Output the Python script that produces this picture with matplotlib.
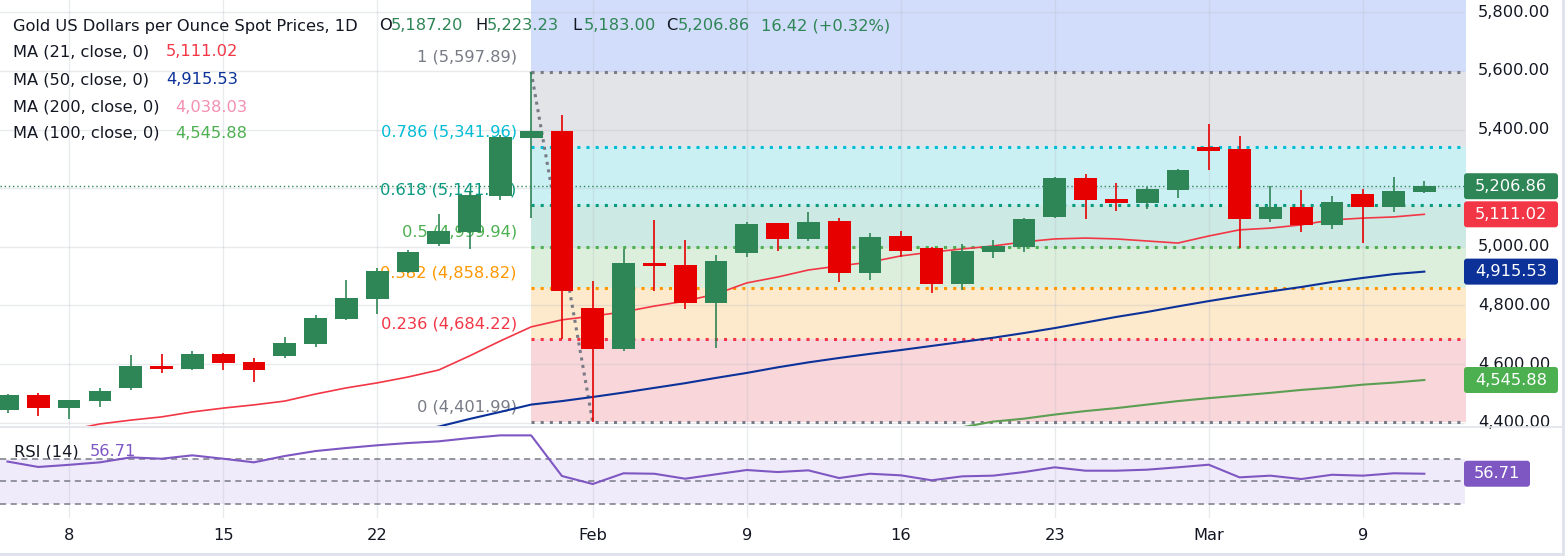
import matplotlib
matplotlib.use("Agg")
import matplotlib.pyplot as plt
from matplotlib.patches import FancyBboxPatch, Rectangle
from matplotlib.lines import Line2D
from matplotlib.transforms import IdentityTransform
import numpy as np

W, H = 1565, 556
plt.rcParams['font.family'] = ['DejaVu Sans']
FS = 11.7

# ---------------- data ----------------
dates = ["2026-01-06", "2026-01-07", "2026-01-08", "2026-01-09", "2026-01-12", "2026-01-13",
         "2026-01-14", "2026-01-15", "2026-01-16", "2026-01-19", "2026-01-20", "2026-01-21",
         "2026-01-22", "2026-01-23", "2026-01-26", "2026-01-27", "2026-01-28", "2026-01-29",
         "2026-01-30", "2026-02-02", "2026-02-03", "2026-02-04", "2026-02-05", "2026-02-06",
         "2026-02-09", "2026-02-10", "2026-02-11", "2026-02-12", "2026-02-13", "2026-02-16",
         "2026-02-17", "2026-02-18", "2026-02-19", "2026-02-20", "2026-02-23", "2026-02-24",
         "2026-02-25", "2026-02-26", "2026-02-27", "2026-03-02", "2026-03-03", "2026-03-04",
         "2026-03-05", "2026-03-06", "2026-03-09", "2026-03-10", "2026-03-11"]

opens = [4444, 4495, 4450, 4474, 4518, 4594, 4583, 4635, 4607, 4628, 4669, 4754, 4823, 4914,
         5009, 5051, 5173, 5371, 5395, 4791, 4651, 4945, 4938, 4810, 4980, 5081, 5027, 5088,
         4912, 5037, 4996, 4874, 4982, 5000, 5102, 5235, 5163, 5150, 5194, 5341, 5334, 5095,
         5136, 5075, 5180, 5136, 5187.20]
highs = [4498, 4502, 4479, 4518, 4631, 4635, 4645, 4637, 4621, 4693, 4768, 4887, 4928, 4989,
         5112, 5190, 5380, 5597.89, 5450, 4884, 4993, 5092, 5023, 4972, 5086, 5083, 5119, 5098,
         5046, 5054, 4999, 5010, 5023, 5098, 5238, 5248, 5218, 5204, 5266, 5419, 5378, 5208,
         5194, 5173, 5197, 5238, 5223.23]
lows = [4433, 4423, 4413, 4454, 4512, 4570, 4581, 4580, 4539, 4621, 4659, 4752, 4771, 4912,
        5003, 4993, 5160, 5098, 4686, 4401.99, 4646, 4850, 4788, 4656, 4966, 4987, 5021, 4881,
        4887, 4966, 4844, 4854, 4963, 4983, 5098, 5095, 5122, 5129, 5167, 5262, 4996, 5085,
        5051, 5061, 5013, 5119, 5183.00]
closes = [4495, 4450, 4478, 4508, 4594, 4583, 4635, 4604, 4580, 4672, 4757, 4826, 4918, 4982,
          5054, 5177, 5375, 5395, 4849, 4651, 4945, 4936, 4810, 4952, 5078, 5027, 5085, 4912,
          5034, 4987, 4874, 4986, 5003, 5095, 5235, 5160, 5150, 5197, 5262, 5327, 5095, 5136,
          5075, 5153, 5136, 5190, 5206.86]

ma21 = [4341, 4358, 4375, 4396, 4409, 4420, 4437, 4450, 4461, 4474, 4498, 4519, 4536, 4556,
        4580, 4628, 4679, 4727, 4751, 4764, 4778, 4798, 4815, 4839, 4877, 4897, 4921, 4935,
        4948, 4969, 4982, 4993, 5003, 5017, 5027, 5030, 5027, 5020, 5013, 5037, 5058, 5064,
        5075, 5092, 5098, 5102, 5111.02]
ma50 = [4215, 4225, 4236, 4246, 4257, 4268, 4279, 4290, 4302, 4313, 4326, 4340, 4355, 4371,
        4387, 4413, 4437, 4462, 4474, 4488, 4503, 4519, 4535, 4553, 4570, 4589, 4606, 4621,
        4635, 4648, 4662, 4676, 4690, 4706, 4723, 4742, 4761, 4778, 4797, 4815, 4832, 4848,
        4863, 4880, 4894, 4907, 4915.53]
ma100 = [None] * 31 + [4385, 4404, 4414, 4428, 4440, 4450, 4462, 4474, 4484, 4493, 4502, 4512,
                       4520, 4530, 4537, 4545.88]
rsi = [67.5, 62.7, 64.6, 66.8, 71.2, 70.0, 73.0, 70.0, 66.8, 72.4, 76.8, 79.5, 81.9, 83.9,
       85.4, 88.3, 90.7, 90.7, 54.7, 47.6, 57.1, 56.7, 52.3, 56.2, 60.0, 58.2, 59.7, 52.9,
       56.7, 55.3, 50.9, 54.4, 55.0, 58.2, 62.4, 59.4, 59.4, 60.3, 62.4, 64.7, 53.5, 55.0,
       52.0, 55.8, 55.0, 57.1, 56.71]

fib_ratios = [1.618, 1, 0.786, 0.618, 0.5, 0.382, 0.236, 0]
fib_prices = [6336.96, 5597.89, 5341.96, 5141.06, 4999.94, 4858.82, 4684.22, 4401.99]
fib_line_colors = ['#2962ff', '#787b86', '#00bcd4', '#089981', '#4caf50', '#ff9800', '#f23645', '#787b86']
fib_fill_colors = ['#d2ddfb', '#e3e4e7', '#caf0f3', '#cde9e3', '#dcefdc', '#fde9cc', '#f9d6da']
fib_start_bar = 17
fib_end_bar = 19

price_ticks = [4400, 4600, 4800, 5000, 5200, 5400, 5600, 5800]
price_tick_hidden = [5200]
xtick_pos = [2, 7, 12, 19, 24, 29, 34, 39, 44]
xtick_labels = ["8", "15", "22", "Feb", "9", "16", "23", "Mar", "9"]

title = "Gold US Dollars per Ounce Spot Prices, 1D"
ohlc_labels = ["O", "H", "L", "C"]
ohlc_values = ["5,187.20", "5,223.23", "5,183.00", "5,206.86"]
change_text = "16.42 (+0.32%)"
ma_names = ["MA (21, close, 0)", "MA (50, close, 0)", "MA (200, close, 0)", "MA (100, close, 0)"]
ma_values = ["5,111.02", "4,915.53", "4,038.03", "4,545.88"]
ma_colors = ["#f23645", "#0c3299", "#f48fb1", "#4caf50"]
rsi_last = 56.71

UP = '#2e8555'
DOWN = '#e60000'
GRID = '#b8bcc8'

# ---------------- figure ----------------
fig = plt.figure(figsize=(W / 100, H / 100), dpi=100)
fig.patch.set_facecolor('white')

XMIN, XMAX = -0.2435, 47.32
ax = fig.add_axes([0, 1 - 426 / H, 1465 / W, 426 / H])
ax.set_xlim(XMIN, XMAX)
ax.set_ylim(4389.0, 5841.95)
ax.axis('off')

rax = fig.add_axes([0, 1 - 518 / H, 1465 / W, (518 - 427) / H])
rax.set_xlim(XMIN, XMAX)
rax.set_ylim(17.5, 98.1)
for s in rax.spines.values():
    s.set_visible(False)
rax.set_yticks([])
rax.set_xticks(xtick_pos)
rax.set_xticklabels(xtick_labels, fontsize=FS, color='#131722')
rax.tick_params(axis='x', length=0, pad=7)

# grid
for p in price_ticks:
    ax.axhline(p, color=GRID, alpha=0.3, lw=1, zorder=1)
for xt in xtick_pos:
    ax.axvline(xt, color=GRID, alpha=0.3, lw=1, zorder=1)
    rax.axvline(xt, color=GRID, alpha=0.3, lw=1, zorder=1)

# fib fills and lines
for k in range(len(fib_prices) - 1):
    ax.fill_between([fib_start_bar, XMAX + 1], fib_prices[k + 1], fib_prices[k],
                    color=fib_fill_colors[k], lw=0, zorder=0.5)
for k in range(1, len(fib_prices)):
    ax.plot([fib_start_bar, XMAX + 1], [fib_prices[k]] * 2, ls=(0, (1, 2)), lw=2.2,
            color=fib_line_colors[k], dash_capstyle='butt', zorder=2)
    lab = f"{fib_ratios[k]:g} ({fib_prices[k]:,.2f})"
    ax.annotate(lab, xy=(fib_start_bar - 0.47, fib_prices[k]), xytext=(0, 10.8),
                textcoords='offset points', ha='right', va='center', fontsize=FS,
                color=fib_line_colors[k], zorder=1.5)
ax.plot([fib_start_bar, fib_end_bar], [fib_prices[1], fib_prices[-1]], ls=(0, (1, 1.5)),
        lw=2.2, color='#787b86', dash_capstyle='butt', zorder=2.2)

# moving averages
xs = np.arange(len(dates))
ax.plot(xs, ma21, color='#f23645', lw=1.2, zorder=2.5)
ax.plot(xs, ma50, color='#0c3299', lw=1.5, zorder=2.5)
ax.plot(xs, np.array([np.nan if v is None else v for v in ma100], dtype=float),
        color='#5c9e52', lw=1.5, zorder=2.5)

# last price line
ax.plot([XMIN, XMAX + 1], [closes[-1]] * 2, ls=(0, (1, 2)), lw=1, color=UP, zorder=2.6)

# candles
bw = 0.74
for i in range(len(dates)):
    o, h, l, c = opens[i], highs[i], lows[i], closes[i]
    col = UP if c >= o else DOWN
    ax.vlines(i, l, h, color=col, lw=1.2, zorder=3)
    ax.bar(i, max(abs(c - o), 8), bottom=min(o, c), width=bw, color=col, lw=0, zorder=3.1)

# RSI panel
rax.axhspan(30, 70, color='#f0ebfa', lw=0, zorder=0.5)
for lvl in (70, 50, 30):
    rax.axhline(lvl, color='#787b86', lw=1.1, ls=(0, (4, 3)), zorder=1.5)
rax.plot(xs, rsi, color='#7e57c2', lw=1.5, zorder=3)

# ---------------- right-axis labels ----------------
def px_text(x, y, s, color='#131722', ha='left', va='center', **kw):
    fig.text(x / W, 1 - y / H, s, color=color, ha=ha, va=va, fontsize=kw.pop('fontsize', FS), **kw)

for p in price_ticks:
    if p in price_tick_hidden:
        continue
    ax.text(1478 / 1465, p, f"{p:,.2f}", transform=ax.get_yaxis_transform(), ha='left',
            va='center', fontsize=FS, color='#131722', clip_on=False)


def value_box(axis, val, text, color, x0=1464, x1=1558, h=26):
    yc = axis.transData.transform((0, val))[1]
    box = FancyBboxPatch((x0, yc - h / 2), x1 - x0, h,
                         boxstyle="round,pad=0,rounding_size=3",
                         transform=IdentityTransform(), fc=color, ec='none', zorder=10)
    fig.add_artist(box)
    fig.text((x0 + x1) / 2 / W, yc / H, text, color='white', ha='center', va='center',
             fontsize=FS, zorder=11)


value_box(ax, closes[-1], f"{closes[-1]:,.2f}", UP)
value_box(ax, ma21[-1], f"{ma21[-1]:,.2f}", '#f23645')
value_box(ax, ma50[-1], f"{ma50[-1]:,.2f}", '#0c3299')
value_box(ax, ma100[-1], f"{ma100[-1]:,.2f}", '#4caf50')
value_box(rax, rsi_last, f"{rsi_last:.2f}", '#7e57c2', x1=1530)

# ---------------- legends ----------------
px_text(13, 26, title)
ohlc_x = [379, 475, 572, 666]
for lx, lab, val in zip(ohlc_x, ohlc_labels, ohlc_values):
    px_text(lx, 26, lab)
    px_text(lx + 12, 26, val, color=UP)
px_text(761, 26, change_text, color=UP)

ma_y = [52, 80, 107, 133]
ma_vx = [166, 166, 175, 175]
for yy, nm, vv, cc, vx in zip(ma_y, ma_names, ma_values, ma_colors, ma_vx):
    px_text(13, yy, nm)
    px_text(vx, yy, vv, color=cc)

px_text(14, 452, "RSI (14)")
px_text(90, 452, f"{rsi_last:.2f}", color='#7e57c2')

# separators / frame
fig.add_artist(Line2D([0, 1], [1 - 426.5 / H, 1 - 426.5 / H], color='#e0e3eb', lw=1.2,
                      transform=fig.transFigure))
fig.add_artist(Rectangle((0, 0), 1, 3 / H, transform=fig.transFigure, fc='#e0e3eb', ec='none'))
fig.add_artist(Rectangle((1 - 3 / W, 0), 3 / W, 1, transform=fig.transFigure, fc='#e0e3eb', ec='none'))

fig.savefig('out.png', dpi=100)
